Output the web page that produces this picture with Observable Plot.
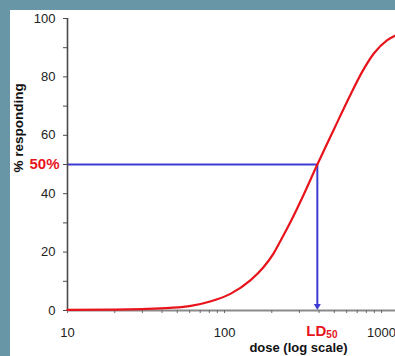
<!DOCTYPE html>
<html>
<head>
<meta charset="utf-8">
<script src="https://cdn.jsdelivr.net/npm/d3@7"></script>
<script src="https://cdn.jsdelivr.net/npm/@observablehq/plot@0.6"></script>
<style>
  html, body { margin: 0; padding: 0; background: #6996a6; width: 395px; height: 356px; overflow: hidden; }
  #chart { position: absolute; left: 10px; top: 10px; width: 385px; height: 346px; background: #fff; overflow: hidden; }
  #chart svg { display: block; background: #fff; }
</style>
</head>
<body>
<div id="chart"></div>
<script>
// Dose-response curve
const dose = [10, 20, 30, 45, 61, 81, 109, 146, 177, 205, 227, 263, 318, 390, 497, 635, 754, 893, 1087, 1227];
const pct  = [0.2, 0.3, 0.5, 0.9, 1.6, 3.1, 5.7, 10.3, 14.8, 19.5, 23.8, 30.3, 39.5, 50, 62, 74, 81.8, 88, 92.6, 94.2];
const ld50 = 390;
const yMajor = [0, 20, 40, 60, 80, 100];
const yMinor = [10, 30, 50, 70, 90];
const xMajor = [10, 100, 1000];
const xMinor = [20, 30, 40, 50, 60, 70, 80, 90, 200, 300, 400, 500, 600, 700, 800, 900];

const curve = dose.map((d, i) => ({dose: d, pct: pct[i]}));
const RED = "#e8141c";
const BLUE = "#3c3cd4";
const FONT = "Liberation Sans, Arial, sans-serif";

const chart = Plot.plot({
  width: 385,
  height: 346,
  marginLeft: 57,
  marginRight: 0,
  marginTop: 8,
  marginBottom: 46,
  style: {fontFamily: FONT, background: "#fff", overflow: "visible"},
  x: {type: "log", domain: [10, 1227], range: [57, 385]},
  y: {domain: [0, 100], range: [300, 8]},
  marks: [
    // blue guide lines
    Plot.ruleY([50], {x1: 10, x2: ld50, stroke: BLUE, strokeWidth: 2}),
    Plot.ruleX([ld50], {y1: 50, y2: 0, stroke: BLUE, strokeWidth: 2, insetBottom: 6}),
    Plot.dot([ld50], {x: d => d, y: 0, symbol: "triangle", rotate: 180, r: 2.6, fill: BLUE, stroke: null, dy: -4.5}),
    // axes lines
    Plot.ruleY([0], {stroke: "#8a8a8a", strokeWidth: 2}),
    Plot.ruleX([10], {stroke: "#4a4a4a", strokeWidth: 1.6}),
    // y axis ticks
    Plot.axisY({ticks: yMajor, tickSize: 4, tickPadding: 8, fontSize: 13, stroke: "#4a4a4a", color: "#222", label: null, tickFormat: d => String(d)}),
    Plot.axisY({ticks: yMinor, tickSize: 4, stroke: "#4a4a4a", text: null, label: null}),
    // x axis ticks
    Plot.axisX({ticks: xMajor, tickSize: 3, tickPadding: 14, fontSize: 13, stroke: "#6a6a6a", color: "#222", label: null, tickFormat: d => String(d)}),
    Plot.axisX({ticks: xMinor, tickSize: 3, stroke: "#6a6a6a", text: null, label: null}),
    // curve
    Plot.line(curve, {x: "dose", y: "pct", stroke: RED, strokeWidth: 2.2, curve: "monotone-x"}),
    // labels
    Plot.text(["50%"], {x: 10, y: 50, textAnchor: "end", dx: -8, fill: RED, fontWeight: "bold", fontSize: 15}),
    Plot.text(["LD"], {x: ld50, y: 0, textAnchor: "end", dx: 9, dy: 20.5, fill: RED, fontWeight: "bold", fontSize: 15}),
    Plot.text(["50"], {x: ld50, y: 0, textAnchor: "start", dx: 9, dy: 24, fill: RED, fontWeight: "bold", fontSize: 10}),
    Plot.text(["% responding"], {frameAnchor: "left", dx: -48.8, dy: 8, rotate: -90, fontWeight: "bold", fontSize: 13.5, fill: "#111"}),
    Plot.text(["dose (log scale)"], {frameAnchor: "bottom-left", textAnchor: "middle", dx: 231, dy: 41.5, fontWeight: "bold", fontSize: 13, fill: "#111"})
  ]
});
document.getElementById("chart").appendChild(chart);
</script>
</body>
</html>
